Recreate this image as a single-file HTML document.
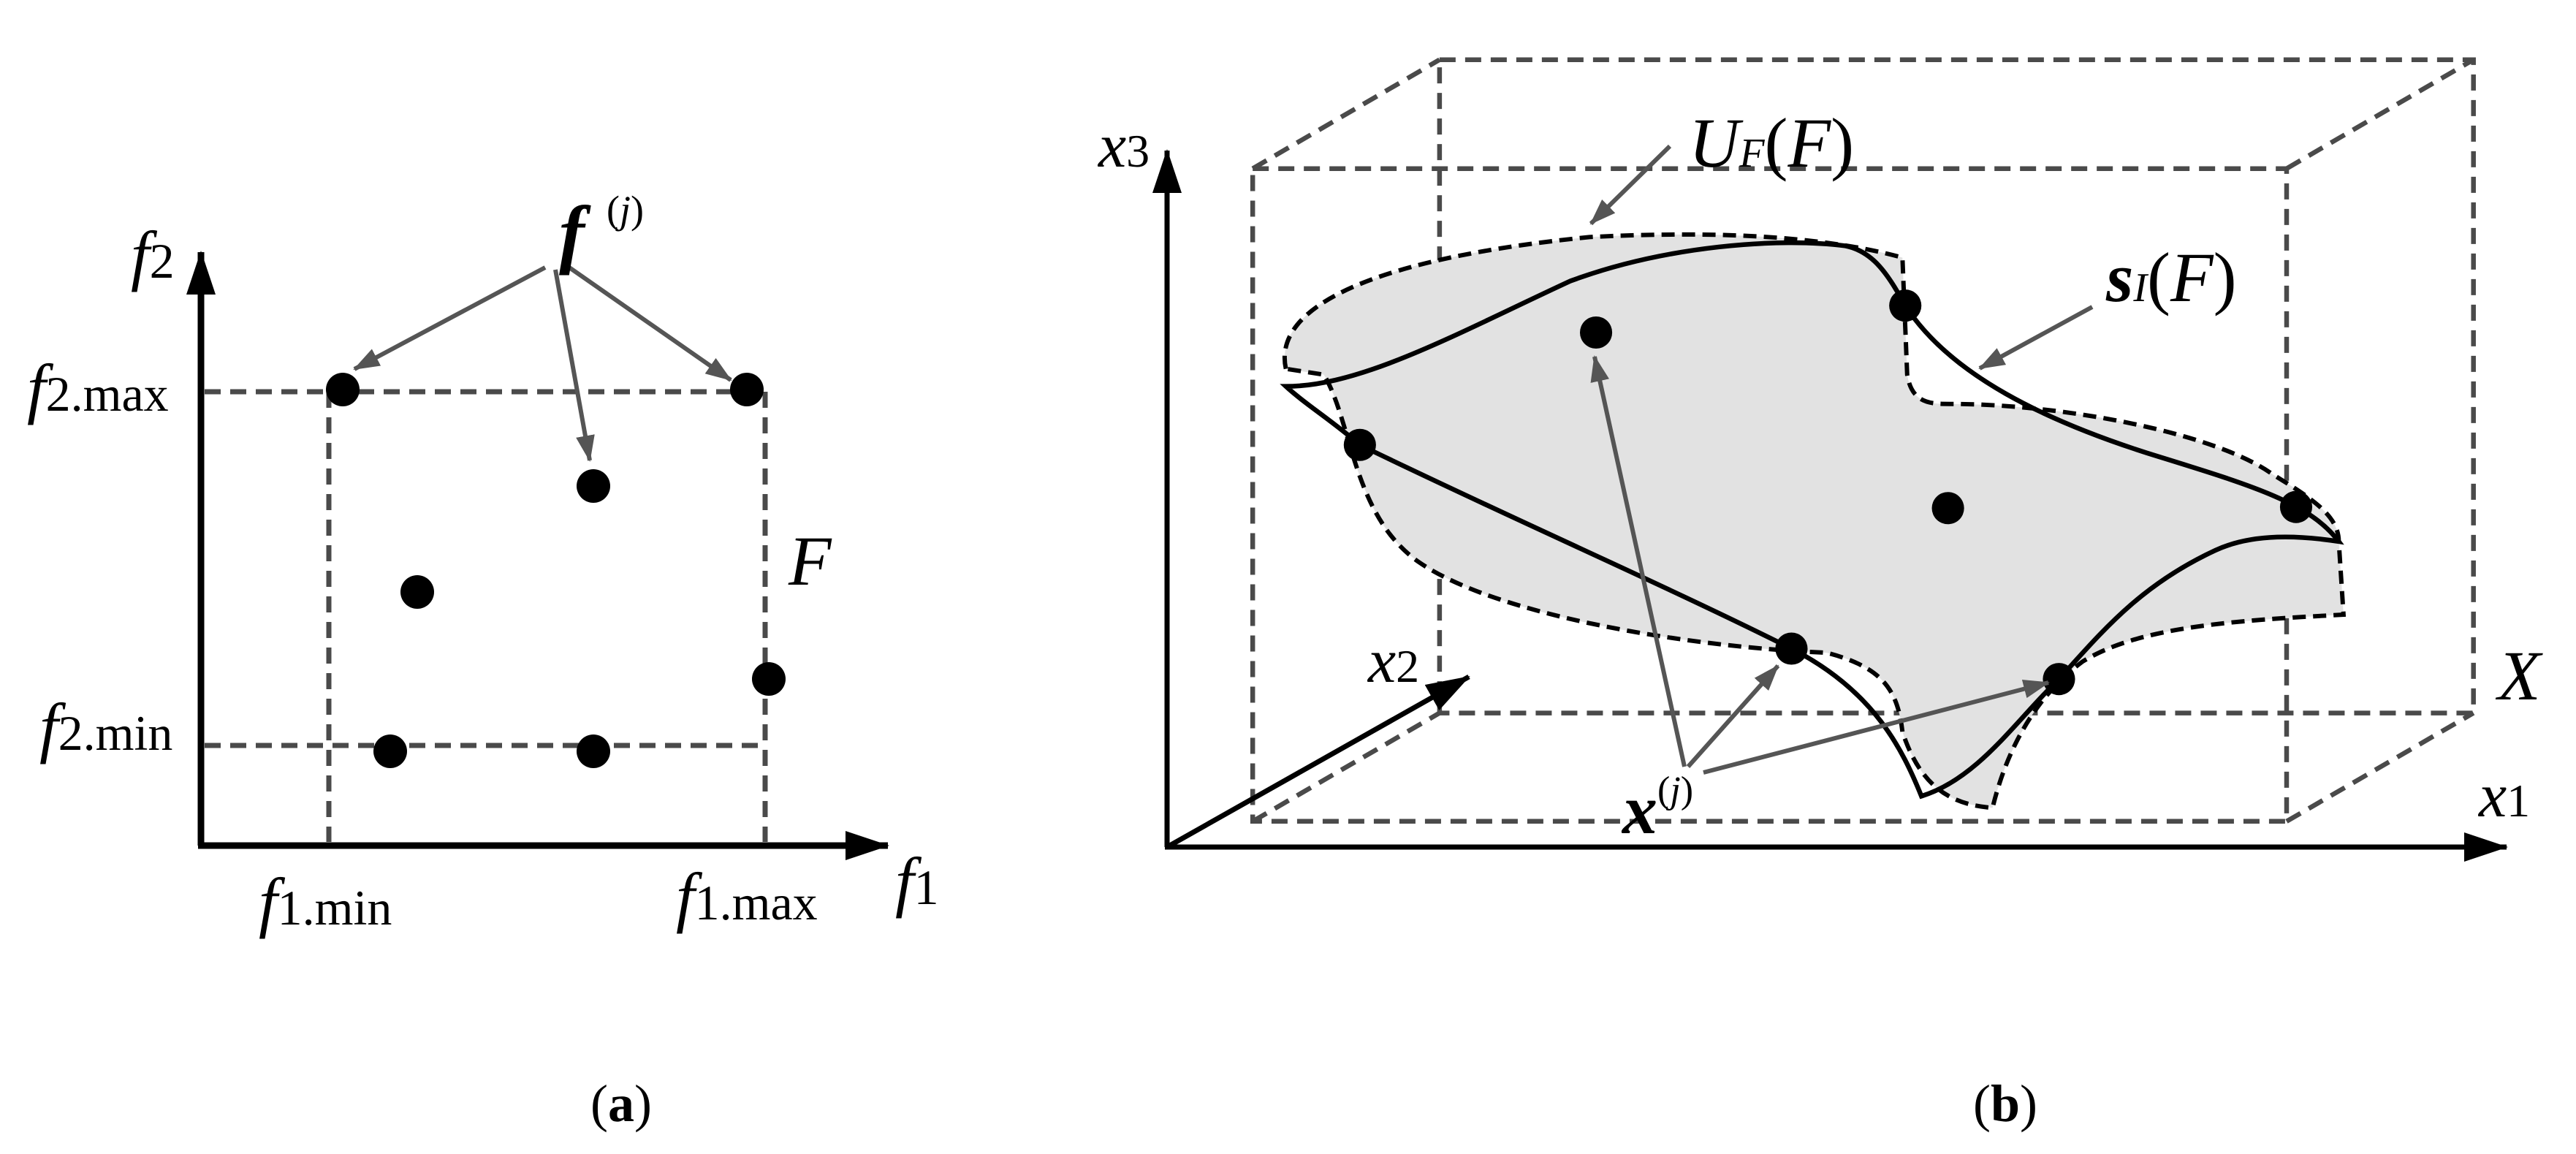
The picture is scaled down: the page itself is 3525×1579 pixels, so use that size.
<!DOCTYPE html>
<html><head><meta charset="utf-8"><style>
html,body{margin:0;padding:0;background:#fff}
svg{display:block}
text{font-family:"Liberation Serif",serif;fill:#000}
</style></head><body>
<svg width="3525" height="1579" viewBox="0 0 3525 1579" xmlns="http://www.w3.org/2000/svg">
<defs>
<marker id="ak" markerUnits="userSpaceOnUse" markerWidth="60" markerHeight="40" refX="58" refY="20" orient="auto"><path d="M0,0 L60,20 L0,40 z" fill="#000"/></marker>
<marker id="ag" markerUnits="userSpaceOnUse" markerWidth="36" markerHeight="26" refX="34" refY="13" orient="auto"><path d="M0,0 L36,13 L0,26 z" fill="#555"/></marker>
</defs>

<!-- Panel a -->
<g stroke="#4a4a4a" stroke-width="7" stroke-dasharray="22,13" fill="none">
<line x1="280" y1="536" x2="1047" y2="536"/>
<line x1="280" y1="1020" x2="1047" y2="1020"/>
<line x1="450" y1="536" x2="450" y2="1152"/>
<line x1="1047" y1="536" x2="1047" y2="1152"/>
</g>
<line x1="275" y1="1157" x2="275" y2="345" stroke="#000" stroke-width="9" marker-end="url(#ak)"/>
<line x1="271" y1="1157" x2="1215" y2="1157" stroke="#000" stroke-width="9" marker-end="url(#ak)"/>
<g fill="#000">
<circle cx="469" cy="533" r="23"/><circle cx="1022" cy="533" r="23"/>
<circle cx="812" cy="665" r="23"/><circle cx="571" cy="810" r="23"/>
<circle cx="1052" cy="929" r="23"/><circle cx="534" cy="1028" r="23"/>
<circle cx="812" cy="1028" r="23"/>
</g>
<g stroke="#555" stroke-width="6" fill="none">
<line x1="746" y1="366" x2="485" y2="505" marker-end="url(#ag)"/>
<line x1="760" y1="369" x2="807" y2="630" marker-end="url(#ag)"/>
<line x1="779" y1="366" x2="1000" y2="520" marker-end="url(#ag)"/>
</g>
<text x="765" y="354" font-size="105" font-style="italic" font-weight="bold">f</text>
<text x="830" y="305" font-size="54">(<tspan font-style="italic">j</tspan>)</text>
<text x="179" y="380" font-size="92" font-style="italic">f<tspan font-style="normal" font-size="68">2</tspan></text>
<text x="37" y="562" font-size="92" font-style="italic">f<tspan font-style="normal" font-size="68">2.max</tspan></text>
<text x="54" y="1026" font-size="92" font-style="italic">f<tspan font-style="normal" font-size="68">2.min</tspan></text>
<text x="354" y="1265" font-size="92" font-style="italic">f<tspan font-style="normal" font-size="68">1.min</tspan></text>
<text x="925" y="1258" font-size="92" font-style="italic">f<tspan font-style="normal" font-size="68">1.max</tspan></text>
<text x="1225" y="1237" font-size="92" font-style="italic">f<tspan font-style="normal" font-size="68">1</tspan></text>
<text x="1079" y="800" font-size="96" font-style="italic">F</text>
<text x="808" y="1534" font-size="72">(<tspan font-weight="bold">a</tspan>)</text>

<!-- Panel b (zoom-space coords) -->
<g transform="translate(1500,0) scale(1.298,0.801)">
<g stroke="#4a4a4a" stroke-width="6.5" stroke-dasharray="22,13" fill="none">
<rect x="362" y="102" width="1090" height="1116" vector-effect="non-scaling-stroke"/>
<rect x="165" y="288" width="1090" height="1115" vector-effect="non-scaling-stroke"/>
<line x1="165" y1="288" x2="362" y2="102" vector-effect="non-scaling-stroke"/>
<line x1="1255" y1="288" x2="1452" y2="102" vector-effect="non-scaling-stroke"/>
<line x1="1255" y1="1403" x2="1452" y2="1218" vector-effect="non-scaling-stroke"/>
<line x1="165" y1="1403" x2="362" y2="1218" vector-effect="non-scaling-stroke"/>
</g>
<path d="M200,630 C185,520 300,440 520,405 C640,395 760,400 850,440 L855,640 C860,690 880,690 900,690 C1020,690 1180,740 1240,810 C1280,850 1310,880 1310,925 L1315,1050 C1200,1060 1100,1070 1040,1130 C990,1190 960,1280 945,1380 C905,1375 870,1350 850,1250 C845,1180 830,1140 770,1115 C620,1105 420,1050 340,960 C270,880 270,720 240,640 Z" fill="#e2e2e2" stroke="#000" stroke-width="6" stroke-dasharray="18,10" vector-effect="non-scaling-stroke"/>
<path d="M200,660 C280,660 380,570 500,480 C600,420 720,405 790,420 C820,430 835,470 853,522 C900,640 1000,720 1120,780 C1220,830 1280,860 1310,925 C1270,915 1220,910 1180,940 C1100,1000 1060,1080 1015,1160 C970,1230 930,1330 870,1360 C850,1280 820,1180 733,1108 C600,1000 430,880 278,760 C250,720 220,690 200,660 Z" fill="none" stroke="#000" stroke-width="6.5" vector-effect="non-scaling-stroke"/>
<g fill="#000">
<ellipse cx="527" cy="568" rx="17" ry="27.5"/><ellipse cx="853" cy="522" rx="17" ry="27.5"/>
<ellipse cx="278" cy="760" rx="17" ry="27.5"/><ellipse cx="898" cy="868" rx="17" ry="27.5"/>
<ellipse cx="1265" cy="866" rx="17" ry="27.5"/><ellipse cx="733" cy="1108" rx="17" ry="27.5"/>
<ellipse cx="1015" cy="1160" rx="17" ry="27.5"/>
</g>
</g>
<!-- axes b -->
<line x1="1597" y1="1159" x2="1597" y2="206" stroke="#000" stroke-width="7" marker-end="url(#ak)"/>
<line x1="1594" y1="1159" x2="3430" y2="1159" stroke="#000" stroke-width="7" marker-end="url(#ak)"/>
<line x1="1597" y1="1159" x2="2010" y2="926" stroke="#000" stroke-width="7" marker-end="url(#ak)"/>
<g stroke="#555" stroke-width="6" fill="none">
<line x1="2285" y1="200" x2="2177" y2="306" marker-end="url(#ag)"/>
<line x1="2863" y1="420" x2="2709" y2="504" marker-end="url(#ag)"/>
<line x1="2305" y1="1049" x2="2182" y2="488" marker-end="url(#ag)"/>
<line x1="2310" y1="1049" x2="2433" y2="911" marker-end="url(#ag)"/>
<line x1="2331" y1="1057" x2="2803" y2="934" marker-end="url(#ag)"/>
</g>
<text x="1503" y="228" font-size="86" font-style="italic">x<tspan font-style="normal" font-size="64">3</tspan></text>
<text x="1872" y="933" font-size="86" font-style="italic">x<tspan font-style="normal" font-size="64">2</tspan></text>
<text x="3392" y="1117" font-size="86" font-style="italic">x<tspan font-style="normal" font-size="64">1</tspan></text>
<text x="3418" y="957" font-size="96" font-style="italic">X</text>
<text x="2311" y="228" font-size="96" font-style="italic">U<tspan font-size="56">F</tspan><tspan font-style="normal">(</tspan>F<tspan font-style="normal">)</tspan></text>
<text x="2882" y="412" font-size="96"><tspan font-weight="bold" font-style="italic">s</tspan><tspan font-style="italic" font-size="56">I</tspan>(<tspan font-style="italic">F</tspan>)</text>
<text x="2220" y="1140" font-size="96" font-style="italic" font-weight="bold">x<tspan font-weight="normal" font-style="normal" font-size="52" dy="-42">(<tspan font-style="italic">j</tspan>)</tspan></text>
<text x="2700" y="1534" font-size="72">(<tspan font-weight="bold">b</tspan>)</text>
</svg>
</body></html>
